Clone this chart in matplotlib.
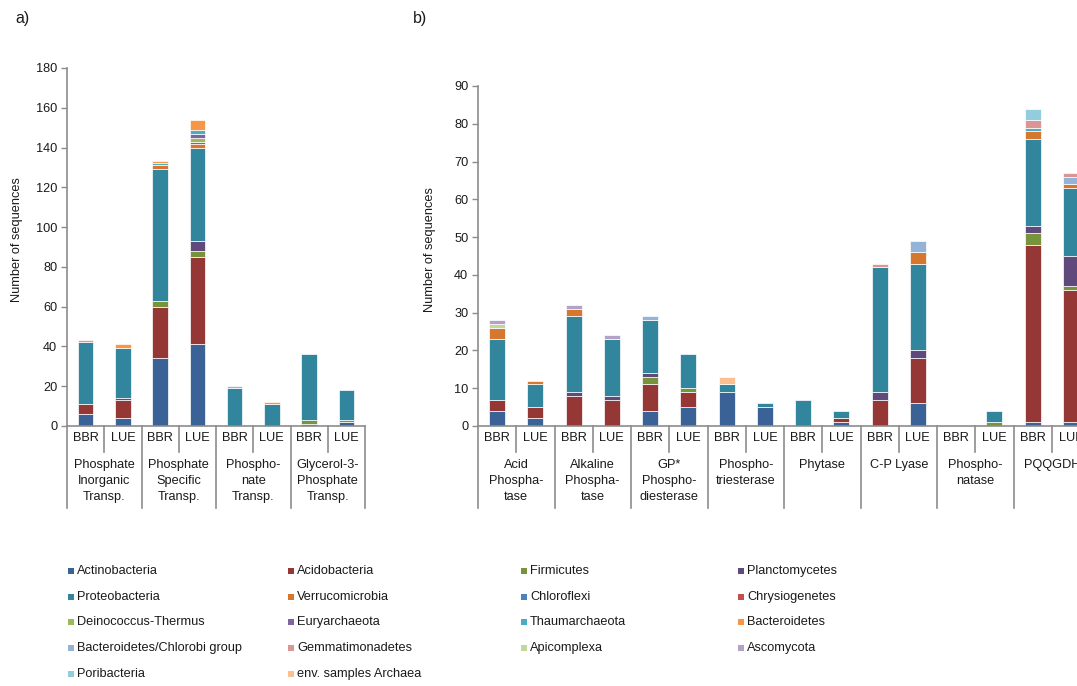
import matplotlib
matplotlib.use("Agg")
import matplotlib.pyplot as plt
import matplotlib.transforms as mtransforms
from matplotlib.patches import Rectangle
import numpy as np

plt.rcParams['font.family'] = ['Liberation Sans', 'DejaVu Sans']

# ---------------- data ----------------
TAXA = ["Actinobacteria", "Acidobacteria", "Firmicutes", "Planctomycetes",
        "Proteobacteria", "Verrucomicrobia", "Chloroflexi", "Chrysiogenetes",
        "Deinococcus-Thermus", "Euryarchaeota", "Thaumarchaeota", "Bacteroidetes",
        "Bacteroidetes/Chlorobi group", "Gemmatimonadetes", "Apicomplexa",
        "Ascomycota", "Poribacteria", "env. samples Archaea"]

SUB_LABELS_A = ["BBR", "LUE"] * 4
GROUPS_A = ["Phosphate\nInorganic\nTransp.", "Phosphate\nSpecific\nTransp.",
            "Phospho-\nnate\nTransp.", "Glycerol-3-\nPhosphate\nTransp."]

SUB_LABELS_B = ["BBR", "LUE"] * 8
GROUPS_B = ["Acid\nPhospha-\ntase", "Alkaline\nPhospha-\ntase", "GP*\nPhospho-\ndiesterase",
            "Phospho-\ntriesterase", "Phytase", "C-P Lyase", "Phospho-\nnatase", "PQQGDH"]

# panel a (8 bars)
A_ACTINOBACTERIA = [6, 4, 34, 41, 0, 0, 1, 2]
A_ACIDOBACTERIA = [5, 9, 26, 44, 0, 0, 0, 0]
A_FIRMICUTES = [0, 0, 3, 3, 0, 0, 2, 1]
A_PLANCTOMYCETES = [0, 1, 0, 5, 0, 0, 0, 0]
A_PROTEOBACTERIA = [31, 25, 66, 47, 19, 11, 33, 15]
A_VERRUCOMICROBIA = [0, 0, 2, 2, 0, 0, 0, 0]
A_CHLOROFLEXI = [0, 0, 0, 0, 0, 0, 0, 0]
A_CHRYSIOGENETES = [0, 0, 0, 1, 0, 0, 0, 0]
A_DEINOCOCCUS = [0, 0, 0, 2, 0, 0, 0, 0]
A_EURYARCHAEOTA = [0, 0, 0, 2, 0, 0, 0, 0]
A_THAUMARCHAEOTA = [0, 0, 1, 2, 0, 0, 0, 0]
A_BACTEROIDETES = [0, 2, 1, 5, 0, 1, 0, 0]
A_BACT_CHLOROBI = [0, 0, 0, 0, 1, 0, 0, 0]
A_GEMMATIMONADETES = [1, 0, 0, 0, 0, 0, 0, 0]
A_APICOMPLEXA = [0, 0, 0, 0, 0, 0, 0, 0]
A_ASCOMYCOTA = [0, 0, 0, 0, 0, 0, 0, 0]
A_PORIBACTERIA = [0, 0, 0, 0, 0, 0, 0, 0]
A_ENV_ARCHAEA = [0, 0, 0, 0, 0, 0, 0, 0]

# panel b (16 bars)
B_ACTINOBACTERIA = [4, 2, 0, 0, 4, 5, 9, 5, 0, 1, 0, 6, 0, 0, 1, 1]
B_ACIDOBACTERIA = [3, 3, 8, 7, 7, 4, 0, 0, 0, 1, 7, 12, 0, 0, 47, 35]
B_FIRMICUTES = [0, 0, 0, 0, 2, 1, 0, 0, 0, 0, 0, 0, 0, 1, 3, 1]
B_PLANCTOMYCETES = [0, 0, 1, 1, 1, 0, 0, 0, 0, 0, 2, 2, 0, 0, 2, 8]
B_PROTEOBACTERIA = [16, 6, 20, 15, 14, 9, 2, 1, 7, 2, 33, 23, 0, 3, 23, 18]
B_VERRUCOMICROBIA = [3, 1, 2, 0, 0, 0, 0, 0, 0, 0, 0, 3, 0, 0, 2, 1]
B_CHLOROFLEXI = [0] * 16
B_CHRYSIOGENETES = [0] * 16
B_DEINOCOCCUS = [0] * 16
B_EURYARCHAEOTA = [0] * 16
B_THAUMARCHAEOTA = [0, 0, 0, 0, 0, 0, 0, 0, 0, 0, 0, 0, 0, 0, 1, 0]
B_BACTEROIDETES = [0] * 16
B_BACT_CHLOROBI = [0, 0, 0, 0, 1, 0, 0, 0, 0, 0, 0, 3, 0, 0, 0, 2]
B_GEMMATIMONADETES = [0, 0, 0, 0, 0, 0, 0, 0, 0, 0, 1, 0, 0, 0, 2, 1]
B_APICOMPLEXA = [1, 0, 0, 0, 0, 0, 0, 0, 0, 0, 0, 0, 0, 0, 0, 0]
B_ASCOMYCOTA = [1, 0, 1, 1, 0, 0, 0, 0, 0, 0, 0, 0, 0, 0, 0, 0]
B_PORIBACTERIA = [0, 0, 0, 0, 0, 0, 0, 0, 0, 0, 0, 0, 0, 0, 3, 0]
B_ENV_ARCHAEA = [0, 0, 0, 0, 0, 0, 2, 0, 0, 0, 0, 0, 0, 0, 0, 0]

SERIES_A = [A_ACTINOBACTERIA, A_ACIDOBACTERIA, A_FIRMICUTES, A_PLANCTOMYCETES,
            A_PROTEOBACTERIA, A_VERRUCOMICROBIA, A_CHLOROFLEXI, A_CHRYSIOGENETES,
            A_DEINOCOCCUS, A_EURYARCHAEOTA, A_THAUMARCHAEOTA, A_BACTEROIDETES,
            A_BACT_CHLOROBI, A_GEMMATIMONADETES, A_APICOMPLEXA, A_ASCOMYCOTA,
            A_PORIBACTERIA, A_ENV_ARCHAEA]
SERIES_B = [B_ACTINOBACTERIA, B_ACIDOBACTERIA, B_FIRMICUTES, B_PLANCTOMYCETES,
            B_PROTEOBACTERIA, B_VERRUCOMICROBIA, B_CHLOROFLEXI, B_CHRYSIOGENETES,
            B_DEINOCOCCUS, B_EURYARCHAEOTA, B_THAUMARCHAEOTA, B_BACTEROIDETES,
            B_BACT_CHLOROBI, B_GEMMATIMONADETES, B_APICOMPLEXA, B_ASCOMYCOTA,
            B_PORIBACTERIA, B_ENV_ARCHAEA]

# ---------------- style ----------------
COLORS = ["#3A6297", "#953735", "#77933C", "#604A7B", "#31859C", "#D5772E",
          "#4F81BD", "#C0504D", "#9BBB59", "#8064A2", "#4BACC6", "#F79646",
          "#95B3D7", "#D99694", "#C3D69B", "#B3A2C7", "#93CDDD", "#FAC090"]
AXIS_COLOR = "#8c8c8c"
TEXT_COLOR = "#1a1a1a"
FS = 9.2

W, H = 1077, 686
fig = plt.figure(figsize=(W / 100, H / 100), dpi=100)


def px_axes(left, top, right, bottom):
    return fig.add_axes([left / W, 1 - bottom / H, (right - left) / W, (bottom - top) / H])


def draw_panel(ax, series, sub_labels, groups, ymax, ystep, ax_h_px, ylabel_x):
    n = len(sub_labels)
    x = np.arange(n)
    bottom = np.zeros(n)
    for vals, color in zip(series, COLORS):
        v = np.asarray(vals, dtype=float)
        m = v > 0
        if m.any():
            ax.bar(x[m], v[m], 0.42, bottom=bottom[m], color=color,
                   edgecolor="white", linewidth=0.5)
        bottom += v
    ax.set_xlim(-0.5, n - 0.5)
    ax.set_ylim(0, ymax)
    ax.set_yticks(np.arange(0, ymax + 1, ystep))
    ax.set_xticks(x, sub_labels)
    for s in ["top", "right"]:
        ax.spines[s].set_visible(False)
    for s in ["left", "bottom"]:
        ax.spines[s].set_color(AXIS_COLOR)
        ax.spines[s].set_linewidth(1.2)
    ax.tick_params(axis="x", length=0, pad=4, labelsize=FS, labelcolor=TEXT_COLOR)
    ax.tick_params(axis="y", length=4, width=1, color=AXIS_COLOR, pad=3,
                   labelsize=FS, labelcolor=TEXT_COLOR)
    ax.set_ylabel("Number of sequences", fontsize=FS, color=TEXT_COLOR)
    ax.yaxis.set_label_coords(ylabel_x, 0.52)

    trans = mtransforms.blended_transform_factory(ax.transData, ax.transAxes)
    long_f = 82 / ax_h_px
    short_f = 26 / ax_h_px
    for g in range(len(groups) + 1):
        b = 2 * g - 0.5
        ax.plot([b, b], [0, -long_f], transform=trans, clip_on=False,
                color=AXIS_COLOR, lw=1.2)
    for g in range(len(groups)):
        b = 2 * g + 0.5
        ax.plot([b, b], [0, -short_f], transform=trans, clip_on=False,
                color=AXIS_COLOR, lw=1.2)
        ax.text(2 * g + 0.5, -33 / ax_h_px, groups[g], transform=trans,
                ha="center", va="top", fontsize=FS, color=TEXT_COLOR,
                linespacing=1.42)


ax_a = px_axes(67, 68, 365, 426)
draw_panel(ax_a, SERIES_A, SUB_LABELS_A, GROUPS_A, 180, 20, 358, -0.148)

ax_b = px_axes(478, 86, 1090, 426)
draw_panel(ax_b, SERIES_B, SUB_LABELS_B, GROUPS_B, 90, 10, 340, -0.069)

fig.text(15 / W, 1 - 18 / H, "a)", fontsize=11.5, color=TEXT_COLOR, va="center", ha="left")
fig.text(413 / W, 1 - 18 / H, "b)", fontsize=11.5, color=TEXT_COLOR, va="center", ha="left")

# legend (row-wise, 4 columns)
col_x = [71, 291, 524, 741]
row_y = [571, 597, 622, 648, 674]
for i, (name, color) in enumerate(zip(TAXA, COLORS)):
    r, c = divmod(i, 4)
    xm, ym = col_x[c], row_y[r]
    fig.add_artist(Rectangle(((xm - 3) / W, 1 - (ym + 3) / H), 6 / W, 6 / H,
                             transform=fig.transFigure, facecolor=color,
                             edgecolor="none"))
    fig.text((xm + 6) / W, 1 - ym / H, name, fontsize=FS, color=TEXT_COLOR,
             va="center", ha="left")

fig.savefig("out.png", dpi=100, facecolor="white")
